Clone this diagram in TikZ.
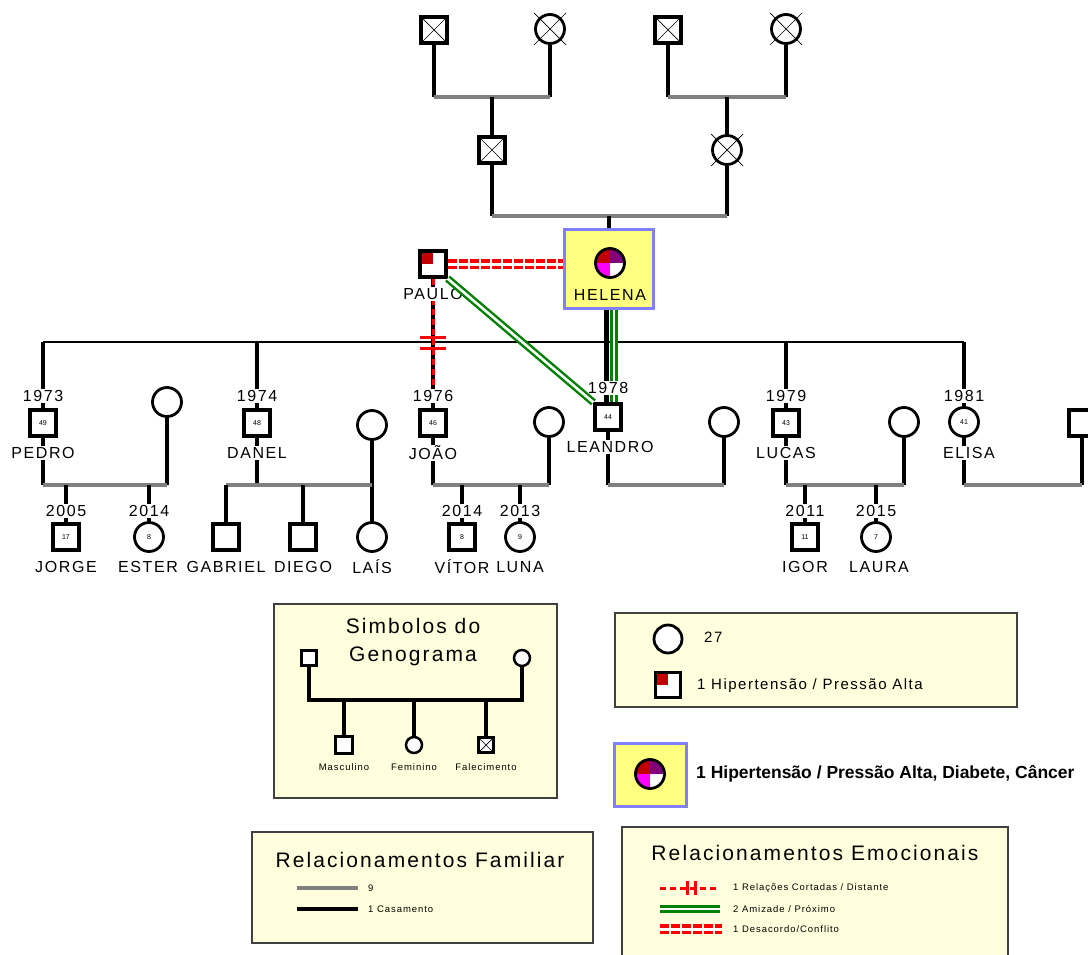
\documentclass[tikz,border=0pt]{standalone}
\usepackage{fontspec}
\setmainfont{Liberation Sans}
\newfontfamily\lsSp[LetterSpace=10]{Liberation Sans}
\newfontfamily\lsNo{Liberation Sans}
\newcommand\gNm{\lsSp\fontsize{16}{18}\selectfont}
\newcommand\gAg{\lsNo\fontsize{7}{8}\selectfont}
\newcommand\gTi{\lsSp\fontsize{21}{28}\selectfont}
\newcommand\gLe{\lsSp\fontsize{15}{17}\selectfont}
\newcommand\gTn{\lsSp\fontsize{9.5}{11}\selectfont}
\newcommand\gBd{\lsNo\bfseries\fontsize{17.5}{19}\selectfont}
\usetikzlibrary{calc}
\pgfdeclarelayer{bgw}
\pgfdeclarelayer{bg}
\pgfsetlayers{bgw,bg,main}
\definecolor{dred}{HTML}{C00000}
\definecolor{purp}{HTML}{800080}
\definecolor{mag}{HTML}{FF00FF}
\definecolor{grn}{HTML}{008000}
\definecolor{gry}{HTML}{808080}
\definecolor{hyel}{HTML}{FFFF80}
\definecolor{hblu}{HTML}{8080FF}
\definecolor{lyel}{HTML}{FFFFDD}
\tikzset{
  male/.style={rectangle, draw=black, line width=3.2pt, fill=white, minimum size=26pt, inner sep=0pt, font=\gAg},
  female/.style={circle, draw=black, line width=2.8pt, fill=white, minimum size=29pt, inner sep=0pt, font=\gAg},
  smallm/.style={male, line width=2.6pt, minimum size=15pt},
  smallf/.style={female, line width=2.5pt, minimum size=16pt},
  dec/.style={path picture={\draw[line width=0.7pt] (path picture bounding box.north west) -- (path picture bounding box.south east) (path picture bounding box.north east) -- (path picture bounding box.south west);}},
  hyp/.style={path picture={\fill[dred] (path picture bounding box.north west) rectangle (path picture bounding box.center);}},
  quad/.style={path picture={
     \fill[dred] (path picture bounding box.center) rectangle (path picture bounding box.north west);
     \fill[purp] (path picture bounding box.center) rectangle (path picture bounding box.north east);
     \fill[mag] (path picture bounding box.center) rectangle (path picture bounding box.south west);}},
  xl/.style={line width=0.7pt, black},
  lbl/.style={font=\gNm, fill=white, inner sep=1pt},
  bl/.style={line width=3.2pt, black},
  gl/.style={line width=3.2pt, gry},
  ml/.style={line width=2.6pt, black},
  hbox/.style={rectangle, draw=hblu, line width=3pt, fill=hyel},
  legbox/.style={rectangle, draw=black!75, line width=1.5pt, fill=lyel},
  cutl/.style={red, line width=3pt, dash pattern=on 6pt off 4pt},
  cutbar/.style={red, line width=3pt},
  frnd/.style={grn, line width=7.5pt},
  frndw/.style={white, line width=2.6pt},
  conf/.style={red, line width=10pt, dash pattern=on 9pt off 2pt},
  confw/.style={white, line width=3pt},
  ttl/.style={font=\gTi, align=center, inner sep=0pt},
  legt/.style={font=\gLe, anchor=west, inner sep=0pt},
  tnt/.style={font=\gTn, anchor=west, inner sep=0pt},
  tnc/.style={font=\gTn, inner sep=0pt}
}
\begin{document}
\begin{tikzpicture}[x=1pt,y=-1pt]
\begin{pgfonlayer}{bgw}\fill[white] (0,0) rectangle (1088,955);\end{pgfonlayer}
\useasboundingbox (0,0) rectangle (1088,955);

% ---------- generation 0 and 1
\node[male,dec] (gp1) at (434,30) {};
\node[female] (gm1) at (550,29) {};
\node[male,dec] (gp2) at (668,30) {};
\node[female] (gm2) at (786,29) {};
\node[male,dec] (fa) at (492,150) {};
\node[female] (mo) at (727,150) {};
\foreach \n in {gm1,gm2,mo}
  \draw[xl] ([shift={(-16,-16)}]\n.center) -- ([shift={(16,16)}]\n.center)
            ([shift={(16,-16)}]\n.center) -- ([shift={(-16,16)}]\n.center);

% ---------- parents
\node[hbox, minimum width=89pt, minimum height=79pt] (hb) at (609,269) {};
\node[female, quad] (hel) at (610,263) {};
\node[lbl, fill=none] (helN) at (610,295) {HELENA};
\node[male,hyp] (pau) at (433,264) {};
\node[lbl] (pauN) at (433,294) {PAULO};

% ---------- children
\node[lbl] (y1) at (43,396) {1973};
\node[male] (ped) at (43,423) {49};
\node[lbl] (pedN) at (43,453) {PEDRO};
\node[female] (peds) at (167,402) {};

\node[lbl] (y2) at (257,396) {1974};
\node[male] (dan) at (257,423) {48};
\node[lbl] (danN) at (257,453) {DANEL};
\node[female] (dans) at (372,425) {};

\node[lbl] (y3) at (433,396) {1976};
\node[male] (joa) at (433,423) {46};
\node[lbl] (joaN) at (433,453) {JOÃO};
\node[female] (joas) at (549,422) {};

\node[lbl] (y4) at (608,388) {1978};
\node[male] (lea) at (608,417) {44};
\node[lbl] (leaN) at (610,447) {LEANDRO};
\node[female] (leas) at (724,422) {};

\node[lbl] (y5) at (786,396) {1979};
\node[male] (luc) at (786,423) {43};
\node[lbl] (lucN) at (786,453) {LUCAS};
\node[female] (lucs) at (904,422) {};

\node[lbl] (y6) at (964,396) {1981};
\node[female] (eli) at (964,422) {41};
\node[lbl] (eliN) at (969,453) {ELISA};
\node[male] (elis) at (1082,423) {};

% ---------- grandchildren
\node[lbl] (y7) at (66,511) {2005};
\node[male] (jor) at (66,537) {17};
\node[lbl] (jorN) at (66,567) {JORGE};
\node[lbl] (y8) at (149,511) {2014};
\node[female] (est) at (149,537) {8};
\node[lbl] (estN) at (148,567) {ESTER};

\node[male] (gab) at (226,537) {};
\node[lbl] (gabN) at (226,567) {GABRIEL};
\node[male] (die) at (303,537) {};
\node[lbl] (dieN) at (303,567) {DIEGO};
\node[female] (lai) at (372,537) {};
\node[lbl] (laiN) at (372,567) {LAÍS};

\node[lbl] (y9) at (462,511) {2014};
\node[male] (vit) at (462,537) {8};
\node[lbl] (vitN) at (462,567) {VÍTOR};
\node[lbl] (y10) at (520,511) {2013};
\node[female] (lun) at (520,537) {9};
\node[lbl] (lunN) at (520,567) {LUNA};

\node[lbl] (y11) at (805,511) {2011};
\node[male] (igo) at (805,537) {11};
\node[lbl] (igoN) at (805,567) {IGOR};
\node[lbl] (y12) at (876,511) {2015};
\node[female] (lau) at (876,537) {7};
\node[lbl] (lauN) at (879,567) {LAURA};

% ---------- connectors (behind)
\begin{pgfonlayer}{bg}
 % grandparents
 \draw[bl] (gp1.south) -- (gp1.south |- 0,97);
 \draw[bl] (gm1.south) -- (gm1.south |- 0,97);
 \draw[gl] (gp1.south |- 0,97) -- (gm1.south |- 0,97);
 \draw[bl] (fa.north |- 0,97) -- (fa.north);
 \draw[bl] (gp2.south) -- (gp2.south |- 0,97);
 \draw[bl] (gm2.south) -- (gm2.south |- 0,97);
 \draw[gl] (gp2.south |- 0,97) -- (gm2.south |- 0,97);
 \draw[bl] (mo.north |- 0,97) -- (mo.north);
 \draw[bl] (fa.south) -- (fa.south |- 0,216);
 \draw[bl] (mo.south) -- (mo.south |- 0,216);
 \draw[gl] (fa.south |- 0,216) -- (mo.south |- 0,216);
 \draw[bl] (hb.north |- 0,216) -- (hb.north);
 % marriage line and children
 \draw[ml] (ped.north |- 0,342) -- (eli.north |- 0,342);
 \draw[bl] (pau.south) -- (pau.south |- 0,342);
 \draw[bl] (ped.north |- 0,342) -- (ped.north);
 \draw[bl] (dan.north |- 0,342) -- (dan.north);
 \draw[bl] (joa.north |- 0,342) -- (joa.north);
 \draw[bl] (luc.north |- 0,342) -- (luc.north);
 \draw[bl] (eli.north |- 0,342) -- (eli.north);
 \draw[frnd] ([xshift=6pt]lea.north |- hb.south) -- ([xshift=6pt]lea.north);
 \draw[frndw] ([xshift=6pt]lea.north |- hb.south) -- ([xshift=6pt]lea.north);
 \draw[line width=4.5pt] ([xshift=-1.5pt]lea.north |- hb.south) -- ([xshift=-1.5pt]lea.north);
 % cut-off PAULO - JOAO
 \draw[cutl] (pau.south) -- (y3.north);
 \draw[cutbar] ([xshift=-13pt]pau.south |- 0,337) -- ([xshift=13pt]pau.south |- 0,337);
 \draw[cutbar] ([xshift=-13pt]pau.south |- 0,348) -- ([xshift=13pt]pau.south |- 0,348);
 % conflict PAULO - HELENA
 \draw[conf] (pau.east) -- (pau.east -| hb.west);
 \draw[confw] (pau.east) -- (pau.east -| hb.west);
 % couples
 \draw[bl] (ped.south) -- (ped.south |- 0,485);
 \draw[bl] (peds.south) -- (peds.south |- 0,485);
 \draw[gl] (ped.south |- 0,485) -- (peds.south |- 0,485);
 \draw[bl] (jor.north |- 0,485) -- (jor.north);
 \draw[bl] (est.north |- 0,485) -- (est.north);

 \draw[bl] (dan.south) -- (dan.south |- 0,485);
 \draw[bl] (dans.south) -- (lai.north);
 \draw[gl] (gab.north |- 0,485) -- (dans.south |- 0,485);
 \draw[bl] (gab.north |- 0,485) -- (gab.north);
 \draw[bl] (die.north |- 0,485) -- (die.north);

 \draw[bl] (joa.south) -- (joa.south |- 0,485);
 \draw[bl] (joas.south) -- (joas.south |- 0,485);
 \draw[gl] (joa.south |- 0,485) -- (joas.south |- 0,485);
 \draw[bl] (vit.north |- 0,485) -- (vit.north);
 \draw[bl] (lun.north |- 0,485) -- (lun.north);

 \draw[bl] (lea.south) -- (lea.south |- 0,485);
 \draw[bl] (leas.south) -- (leas.south |- 0,485);
 \draw[gl] (lea.south |- 0,485) -- (leas.south |- 0,485);

 \draw[bl] (luc.south) -- (luc.south |- 0,485);
 \draw[bl] (lucs.south) -- (lucs.south |- 0,485);
 \draw[gl] (luc.south |- 0,485) -- (lucs.south |- 0,485);
 \draw[bl] (igo.north |- 0,485) -- (igo.north);
 \draw[bl] (lau.north |- 0,485) -- (lau.north);

 \draw[bl] (eli.south) -- (eli.south |- 0,485);
 \draw[bl] (elis.south) -- (elis.south |- 0,485);
 \draw[gl] (eli.south |- 0,485) -- (elis.south |- 0,485);
\end{pgfonlayer}

% friendship PAULO - LEANDRO (over labels)
\draw[frnd] (pau.south east) -- (lea.north west);
\draw[frndw] (pau.south east) -- (lea.north west);

% ---------- legend: symbols
\node[legbox, minimum width=283pt, minimum height=194pt] (lg1) at (415.5,701) {};
\node[ttl] (lg1t) at (413,642) {Simbolos do\\Genograma};
\node[smallm] (lsm) at (309,658) {};
\node[smallf] (lsf) at (522,658) {};
\coordinate (lj1) at (309,700);
\coordinate (lj2) at (522,700);
\draw[bl] (lsm.south) -- (lj1) -- (lj2) -- (lsf.south);
\node[smallm, minimum size=17pt] (lcm) at (344,745) {};
\node[smallf] (lcf) at (414,745) {};
\node[smallm, dec] (lcd) at (486,745) {};
\draw[bl] (lcm.north |- lj1) -- (lcm.north);
\draw[bl] (lcf.north |- lj1) -- (lcf.north);
\draw[bl] (lcd.north |- lj1) -- (lcd.north);
\node[tnc] (lcmt) at (344,767) {Masculino};
\node[tnc] (lcft) at (414,767) {Feminino};
\node[tnc] (lcdt) at (486,767) {Falecimento};

% ---------- legend: conditions
\node[legbox, minimum width=402pt, minimum height=94pt] (lg2) at (816,660) {};
\node[female, minimum size=28pt] (lg2c) at (668,639) {};
\node[legt] (lg2ct) at (704,637) {27};
\node[male, hyp, minimum size=25pt] (lg2s) at (668,685) {};
\node[legt] (lg2st) at (697,686) {1 Hipertensão / Pressão Alta};

\node[hbox, minimum width=72pt, minimum height=63pt] (lg3) at (650.5,775) {};
\node[female, quad, minimum size=29pt] (lg3c) at (650,774) {};
\node[font=\gBd, anchor=west, inner sep=0pt] (lg3t) at (696,774) {1 Hipertensão / Pressão Alta, Diabete, Câncer};

% ---------- legend: family relations
\node[legbox, minimum width=341pt, minimum height=111pt] (lg4) at (422.5,887.5) {};
\node[ttl] (lg4t) at (420,860) {Relacionamentos Familiar};
\coordinate (f1a) at (297,888); \coordinate (f1b) at (358,888);
\coordinate (f2a) at (297,909); \coordinate (f2b) at (358,909);
\draw[gl] (f1a) -- (f1b);
\draw[bl] (f2a) -- (f2b);
\node[tnt] (f1t) at (368,888) {9};
\node[tnt] (f2t) at (368,909) {1 Casamento};

% ---------- legend: emotional relations
\node[legbox, minimum width=386pt, minimum height=150pt] (lg5) at (815,902) {};
\node[ttl] (lg5t) at (815,853) {Relacionamentos Emocionais};
\coordinate (e1a) at (660,888); \coordinate (e1b) at (718,888);
\coordinate (e2a) at (660,909); \coordinate (e2b) at (720,909);
\coordinate (e3a) at (660,929); \coordinate (e3b) at (722,929);
\draw[cutl] (e1a) -- (e1b);
\draw[cutbar] (687,881) -- (687,895);
\draw[cutbar] (695,881) -- (695,895);
\draw[frnd] (e2a) -- (e2b);
\draw[frndw] (e2a) -- (e2b);
\draw[conf] (e3a) -- (e3b);
\draw[confw] (e3a) -- (e3b);
\node[tnt] (e1t) at (733,888) {1 Relações Cortadas / Distante};
\node[tnt] (e2t) at (733,909) {2 Amizade / Próximo};
\node[tnt] (e3t) at (733,929) {1 Desacordo/Conflito};
\end{tikzpicture}
\end{document}
